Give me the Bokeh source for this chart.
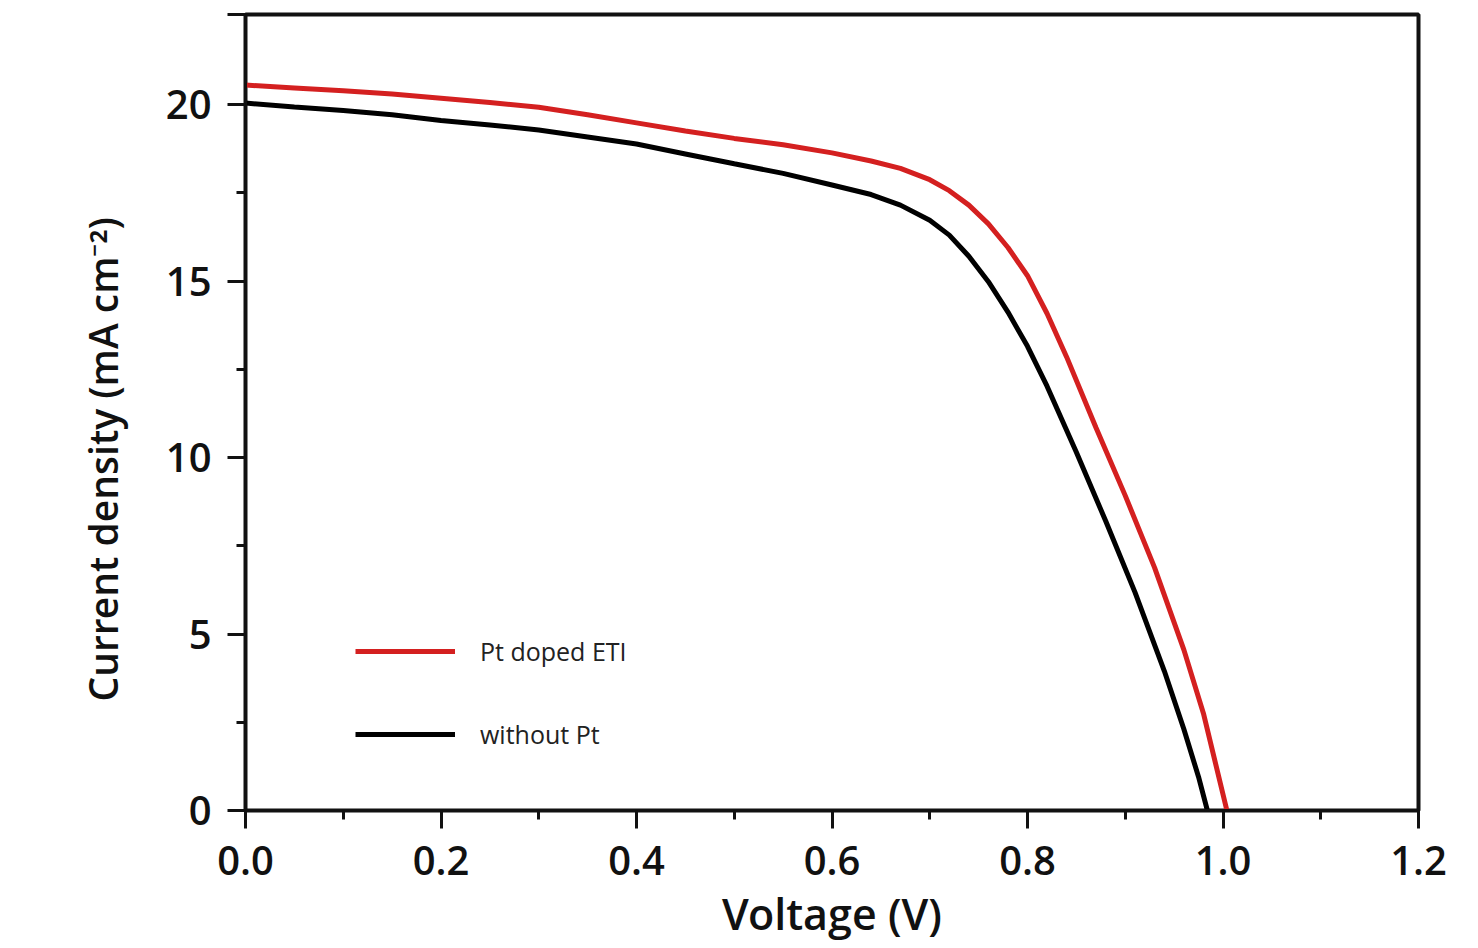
from bokeh.plotting import figure
from bokeh.models import (Range1d, FixedTicker, NumeralTickFormatter, Legend, LegendItem, Title)
from bokeh.embed import file_html
from bokeh.resources import INLINE

# ---- data ----
voltage_pt = [0.00, 0.05, 0.10, 0.15, 0.20, 0.25, 0.30, 0.35, 0.40, 0.45, 0.50, 0.55,
              0.60, 0.64, 0.67, 0.70, 0.72, 0.74, 0.76, 0.78, 0.80, 0.82, 0.84, 0.87,
              0.90, 0.93, 0.96, 0.98, 1.004]
current_pt = [20.55, 20.47, 20.39, 20.30, 20.18, 20.06, 19.92, 19.71, 19.48, 19.25, 19.04, 18.86,
              18.63, 18.40, 18.19, 17.87, 17.56, 17.15, 16.62, 15.95, 15.15, 14.08, 12.85, 10.85,
              8.92, 6.88, 4.55, 2.75, 0.00]

voltage_ref = [0.00, 0.05, 0.10, 0.15, 0.20, 0.25, 0.30, 0.35, 0.40, 0.45, 0.50, 0.55,
               0.60, 0.64, 0.67, 0.70, 0.72, 0.74, 0.76, 0.78, 0.80, 0.82, 0.85, 0.88,
               0.91, 0.94, 0.96, 0.975, 0.984]
current_ref = [20.04, 19.93, 19.83, 19.71, 19.55, 19.42, 19.28, 19.08, 18.88, 18.60, 18.32, 18.05,
               17.72, 17.45, 17.15, 16.72, 16.30, 15.70, 14.98, 14.12, 13.15, 12.02, 10.15, 8.20,
               6.18, 3.95, 2.30, 0.95, 0.00]

series_labels = ["Pt doped ETI", "without Pt"]
x_ticks = [0.0, 0.2, 0.4, 0.6, 0.8, 1.0, 1.2]
x_minor = [0.1, 0.3, 0.5, 0.7, 0.9, 1.1]
y_top = 22.55
y_ticks = [0, 5, 10, 15, 20, y_top]
y_minor = [2.5, 7.5, 12.5, 17.5]
x_title = "Voltage (V)"
y_title = "Current density (mA cm⁻²)"

FONT = "Open Sans"
SEMI = "'Open Sans SemiBold', 'Open Sans Semibold', 'Open Sans'"
RED = "#d42020"

p = figure(width=1478, height=948, output_backend="svg", toolbar_location=None,
           x_range=Range1d(0, 1.2), y_range=Range1d(0, y_top),
           min_border_left=245, min_border_right=60, min_border_top=14, min_border_bottom=138)

p.background_fill_color = "white"
p.border_fill_color = "white"
p.grid.visible = False
p.outline_line_color = "#111111"
p.outline_line_width = 4

r_pt = p.line(voltage_pt, current_pt, line_color=RED, line_width=5)
r_ref = p.line(voltage_ref, current_ref, line_color="black", line_width=5)

p.xaxis.ticker = FixedTicker(ticks=x_ticks, minor_ticks=x_minor)
p.yaxis.ticker = FixedTicker(ticks=y_ticks, minor_ticks=y_minor)
p.xaxis.formatter = NumeralTickFormatter(format="0.0")
p.yaxis.major_label_overrides = {y_top: ""}

for ax in (p.xaxis[0], p.yaxis[0]):
    ax.axis_line_color = "#111111"
    ax.axis_line_width = 3
    ax.major_tick_line_color = "#111111"
    ax.major_tick_line_width = 3
    ax.minor_tick_line_color = "#111111"
    ax.minor_tick_line_width = 3
    ax.major_tick_out = 18
    ax.major_tick_in = 0
    ax.minor_tick_out = 9
    ax.minor_tick_in = 0
    ax.major_label_text_font = SEMI
    ax.major_label_text_font_size = "40px"
    ax.major_label_text_color = "#111111"

p.xaxis.major_label_standoff = 17
p.yaxis.major_label_standoff = 16

p.xaxis.axis_label = x_title
p.xaxis.axis_label_text_font = SEMI
p.xaxis.axis_label_text_font_size = "43px"
p.xaxis.axis_label_text_font_style = "normal"
p.xaxis.axis_label_text_color = "#111111"
p.xaxis.axis_label_standoff = 6

ytitle = Title(text=y_title, align="left", offset=109,
               text_font=SEMI, text_font_size="39px", text_font_style="normal",
               text_color="#111111", standoff=68)
p.add_layout(ytitle, "left")

legend = Legend(items=[LegendItem(label=series_labels[0], renderers=[r_pt]),
                       LegendItem(label=series_labels[1], renderers=[r_ref])],
                location=(110, 59), orientation="vertical",
                padding=0, margin=0, spacing=49,
                glyph_width=100, glyph_height=30, label_height=30,
                label_standoff=25,
                label_text_font=FONT, label_text_font_size="25px", label_text_color="#222222",
                border_line_alpha=0, background_fill_alpha=0)
p.add_layout(legend)

open("out.html", "w").write(file_html(p, INLINE))
